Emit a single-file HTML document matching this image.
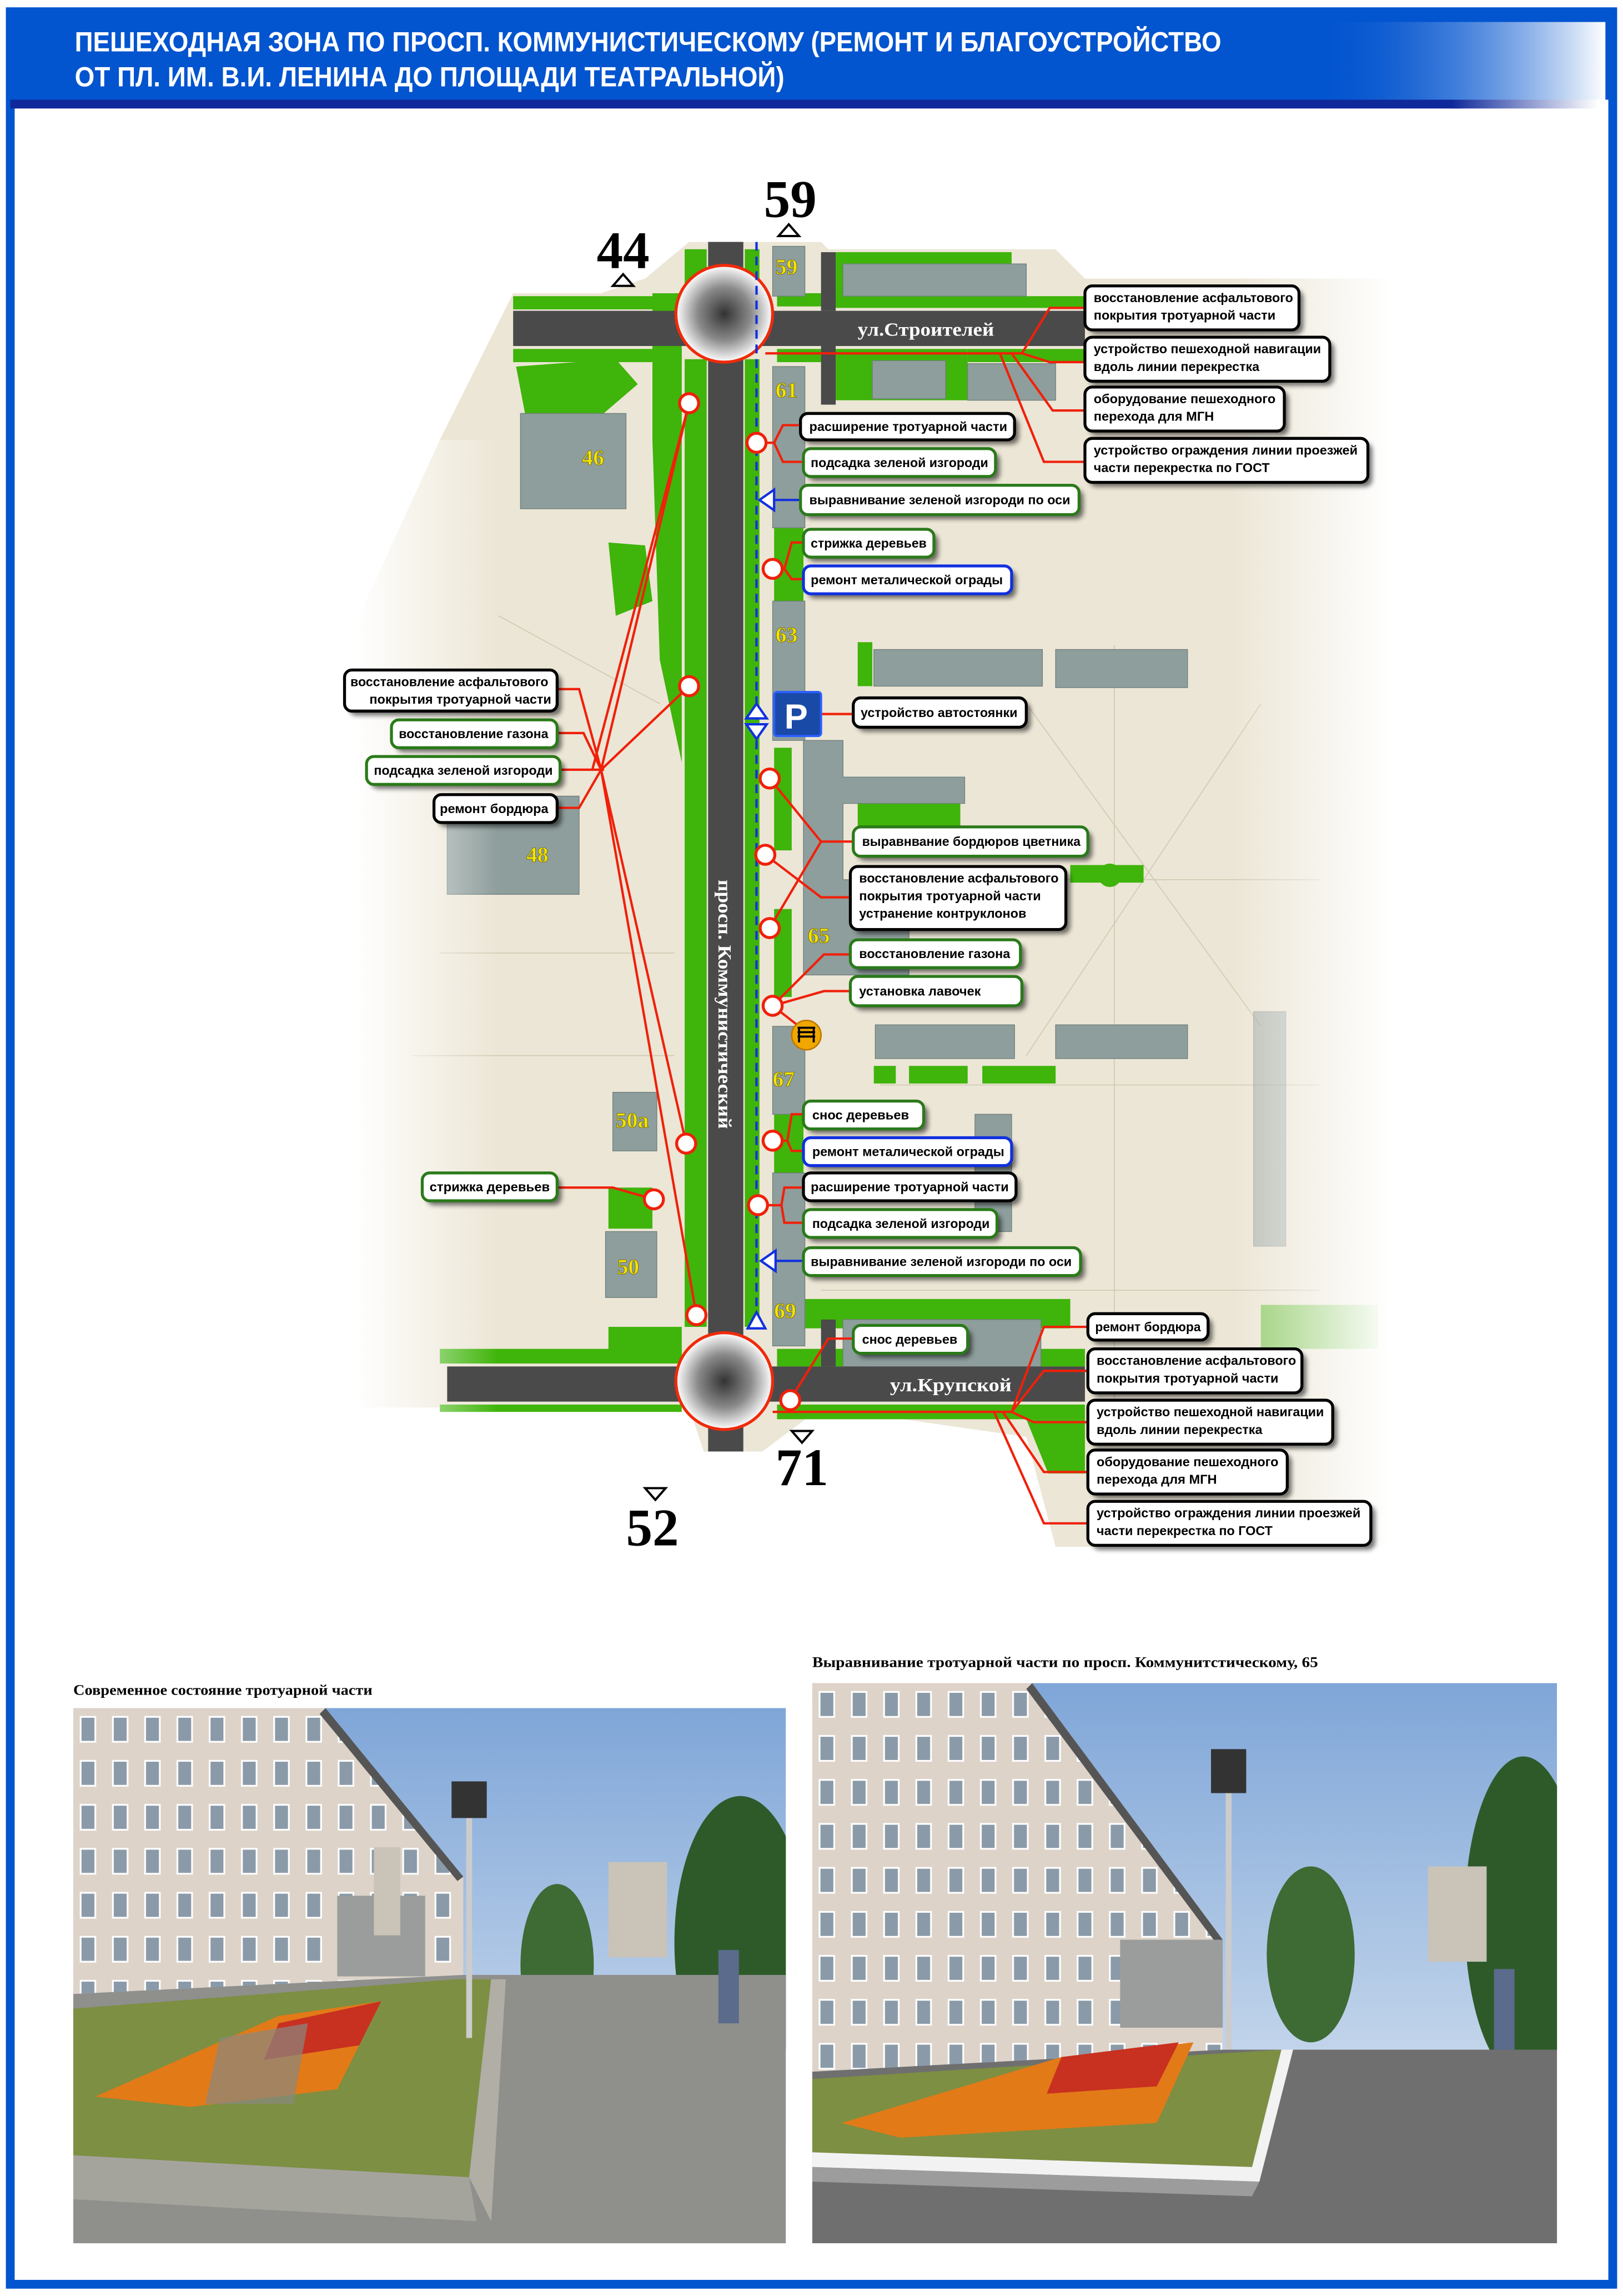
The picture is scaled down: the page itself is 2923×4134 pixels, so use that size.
<!DOCTYPE html>
<html><head><meta charset="utf-8"><style>
html,body{margin:0;padding:0;background:#fff}
svg{display:block}
.lb{font-family:"Liberation Sans",sans-serif;font-weight:bold;font-size:8.6px;fill:#000}
.num{font-family:"Liberation Serif",serif;font-weight:bold;fill:#f5e400;font-size:15px;stroke:#6a6000;stroke-width:.3}
.big{font-family:"Liberation Serif",serif;font-weight:bold;fill:#000;font-size:36px}
.st{font-family:"Liberation Serif",serif;font-weight:bold;fill:#fff;font-size:13px}
.cap{font-family:"Liberation Serif",serif;font-weight:bold;fill:#000;font-size:10px}
</style></head><body>
<svg width="2923" height="4134" viewBox="0 0 1107 1566" preserveAspectRatio="none" xmlns="http://www.w3.org/2000/svg">
<defs>
<linearGradient id="hg" x1="0" x2="1"><stop offset="0" stop-color="#0254cf" stop-opacity="0"/><stop offset="1" stop-color="#fff"/></linearGradient>
<linearGradient id="ng" x1="0" x2="1"><stop offset="0" stop-color="#10299a"/><stop offset="1" stop-color="#fff"/></linearGradient>
<radialGradient id="rb"><stop offset="0" stop-color="#333"/><stop offset=".55" stop-color="#8a8a8a"/><stop offset="1" stop-color="#fff"/></radialGradient>
<linearGradient id="fadeL" x1="0" x2="1"><stop offset="0" stop-color="#fff"/><stop offset="1" stop-color="#fff" stop-opacity="0"/></linearGradient>
<linearGradient id="fadeR" x1="0" x2="1"><stop offset="0" stop-color="#fff" stop-opacity="0"/><stop offset="1" stop-color="#fff"/></linearGradient>
<linearGradient id="sky" x1="0" y1="0" x2="0" y2="1"><stop offset="0" stop-color="#7fa6d8"/><stop offset="1" stop-color="#e4ecf4"/></linearGradient>
<pattern id="win" width="22" height="30" patternUnits="userSpaceOnUse"><rect width="22" height="30" fill="#ddd3c9"/><rect x="5" y="6" width="10" height="17" fill="#8a9aa8" stroke="#fff" stroke-width="1.2"/></pattern>
<filter id="sh" x="-20%" y="-40%" width="140%" height="180%"><feGaussianBlur stdDeviation="1.6"/></filter>
</defs>

<!-- frame -->
<rect x="7" y="8" width="1093" height="1550" fill="none" stroke="#0254cf" stroke-width="6"/>
<rect x="7" y="8" width="1093" height="60" fill="#0254cf"/>
<rect x="893" y="15" width="202" height="53" fill="url(#hg)"/>
<rect x="7" y="68" width="990" height="6" fill="#10299a"/>
<rect x="990" y="68" width="100" height="6" fill="url(#ng)"/>
<text x="51" y="35" font-family="Liberation Sans,sans-serif" font-weight="bold" font-size="19" fill="#fff" textLength="782" lengthAdjust="spacingAndGlyphs">ПЕШЕХОДНАЯ ЗОНА ПО ПРОСП. КОММУНИСТИЧЕСКОМУ (РЕМОНТ И БЛАГОУСТРОЙСТВО</text>
<text x="51" y="59" font-family="Liberation Sans,sans-serif" font-weight="bold" font-size="19" fill="#fff" textLength="484" lengthAdjust="spacingAndGlyphs">ОТ ПЛ. ИМ. В.И. ЛЕНИНА ДО ПЛОЩАДИ ТЕАТРАЛЬНОЙ)</text>

<!-- map base -->
<polygon points="470,165 560,165 565,170 720,170 740,190 945,190 945,1055 720,1055 700,980 560,960 520,990 480,990 470,960 305,960 245,960 245,420 300,300 350,200 410,200 440,190" fill="#ece6d6"/>
<g stroke="#c9bfa6" stroke-width="0.6" fill="none" opacity=".8">
<path d="M700,480 L860,700 M860,480 L700,720 M620,600 L900,600 M760,440 L760,960 M600,740 L900,740 M560,880 L900,880 M300,650 L460,650 M280,720 L460,720 M340,420 L450,480"/>
</g>
<g fill="#3fb40a">
<rect x="467" y="170" width="15" height="25"/><rect x="467" y="245" width="15" height="660"/>
<rect x="508" y="170" width="10" height="25"/><rect x="508" y="245" width="10" height="660"/>
<rect x="350" y="202" width="115" height="9"/><rect x="530" y="200" width="50" height="9"/><rect x="570" y="202" width="170" height="8"/>
<rect x="350" y="238" width="115" height="9"/><rect x="530" y="238" width="40" height="9"/><rect x="570" y="238" width="90" height="35"/><rect x="660" y="238" width="80" height="9"/>
<rect x="570" y="172" width="120" height="30"/>
<polygon points="352,250 420,245 435,262 400,292 360,292"/>
<polygon points="415,370 440,372 445,410 420,420"/>
<polygon points="445,200 465,200 465,520 450,450 445,300"/>
<rect x="528" y="360" width="20" height="50"/><rect x="528" y="510" width="12" height="70"/><rect x="528" y="620" width="12" height="60"/><rect x="528" y="760" width="20" height="40"/>
<rect x="585" y="438" width="10" height="30"/><rect x="585" y="548" width="70" height="25"/>
<rect x="596" y="727" width="15" height="12"/><rect x="620" y="727" width="40" height="12"/><rect x="670" y="727" width="50" height="12"/>
<rect x="730" y="590" width="50" height="12"/><circle cx="757" cy="597" r="8"/>
<rect x="415" y="810" width="30" height="28"/><rect x="415" y="905" width="50" height="20"/><rect x="300" y="920" width="165" height="10"/>
<rect x="530" y="886" width="200" height="20"/><rect x="530" y="920" width="210" height="12"/><rect x="530" y="958" width="210" height="10"/><rect x="300" y="958" width="165" height="5"/>
<rect x="860" y="890" width="80" height="30" fill-opacity=".5"/>
<polygon points="700,968 740,968 740,1005 715,1005"/>
</g>
<g fill="#8e9e9c" stroke="#6f7e7c" stroke-width=".5">
<rect x="527" y="168" width="22" height="34"/>
<rect x="575" y="180" width="125" height="22"/>
<rect x="595" y="246" width="50" height="26"/><rect x="660" y="248" width="60" height="25"/>
<rect x="527" y="250" width="22" height="110"/>
<rect x="527" y="410" width="22" height="95"/>
<rect x="596" y="443" width="115" height="25"/><rect x="720" y="443" width="90" height="26"/>
<polygon points="548,505 575,505 575,530 658,530 658,548 575,548 575,600 620,600 620,665 548,665"/>
<rect x="527" y="700" width="22" height="60"/>
<rect x="597" y="699" width="95" height="23"/><rect x="720" y="699" width="90" height="23"/>
<rect x="527" y="800" width="22" height="118"/>
<rect x="665" y="760" width="25" height="80"/>
<rect x="575" y="900" width="135" height="35"/>
<rect x="355" y="282" width="72" height="65"/>
<rect x="305" y="543" width="90" height="67"/>
<rect x="418" y="745" width="30" height="40"/>
<rect x="413" y="840" width="35" height="45"/>
<rect x="855" y="690" width="22" height="160" opacity=".5"/>
</g>
<rect x="240" y="300" width="100" height="670" fill="url(#fadeL)"/>
<rect x="840" y="190" width="110" height="870" fill="url(#fadeR)"/>
<rect x="483" y="165" width="24" height="825" fill="#4a4a4a"/>
<rect x="350" y="212" width="390" height="24" fill="#4a4a4a"/>
<rect x="560" y="172" width="10" height="40" fill="#4a4a4a"/>
<rect x="560" y="236" width="10" height="40" fill="#4a4a4a"/>
<rect x="305" y="932" width="435" height="24" fill="#4a4a4a"/>
<rect x="560" y="900" width="10" height="32" fill="#4a4a4a"/>
<text class="st" x="585" y="229" textLength="93" lengthAdjust="spacingAndGlyphs">ул.Строителей</text>
<text class="st" x="607" y="949" textLength="83" lengthAdjust="spacingAndGlyphs">ул.Крупской</text>
<text class="st" transform="translate(490,600) rotate(90)" textLength="170" lengthAdjust="spacingAndGlyphs">просп. Коммунистический</text>
<circle cx="494" cy="214" r="33" fill="url(#rb)" stroke="#f02a0a" stroke-width="2"/>
<circle cx="494" cy="942" r="33" fill="url(#rb)" stroke="#f02a0a" stroke-width="2"/>
<line x1="516" y1="165" x2="516" y2="905" stroke="#1030e0" stroke-width="1.6" stroke-dasharray="6,4"/>

<text class="num" x="529" y="187">59</text>
<text class="num" x="529" y="271">61</text>
<text class="num" x="397" y="317">46</text>
<text class="num" x="529" y="438">63</text>
<text class="num" x="359" y="588">48</text>
<text class="num" x="551" y="643">65</text>
<text class="num" x="527" y="741">67</text>
<text class="num" x="420" y="769">50а</text>
<text class="num" x="421" y="869">50</text>
<text class="num" x="528" y="899">69</text>

<text class="big" x="407" y="183">44</text><polygon points="425,187 418,195 432,195" fill="none" stroke="#000" stroke-width="1.5"/>
<text class="big" x="521" y="148">59</text><polygon points="538,153 531,161 545,161" fill="none" stroke="#000" stroke-width="1.5"/>
<text class="big" x="529" y="1013">71</text><polygon points="547,984 540,976 554,976" fill="none" stroke="#000" stroke-width="1.5"/>
<text class="big" x="427" y="1054">52</text><polygon points="447,1023 440,1015 454,1015" fill="none" stroke="#000" stroke-width="1.5"/>

<g stroke="#f0200a" stroke-width="1.6" fill="none">
<path d="M522,241 H697 M697,241 L716,210 H740 M697,241 L716,247 H740 M690,241 L718,280 H740 M682,241 L712,315 H740"/>
<path d="M527,963 H690 M690,963 L712,905 H742 M690,963 L712,935 H742 M690,963 L705,970 H742 M684,963 L712,1004 H742 M678,963 L712,1039 H742"/>
<path d="M540,953 L565,913 H582"/>
<path d="M380,470 H395 L410,525 M380,500 H398 L410,525 M382,525 H412 M380,551 H395 L410,525"/>
<path d="M410,525 L470,468 M410,525 L470,275 M410,525 L468,780 M410,525 L475,897 M404,525 L470,275"/>
<path d="M380,810 H418 L446,818"/>
<path d="M516,302 H528 L534,290 H548 M528,302 L534,315 H548"/>
<path d="M527,388 H535 L540,370 H548 M535,388 L540,395 H548"/>
<path d="M525,531 L560,574 H582 M525,633 L560,574 M522,583 L560,612 H580"/>
<path d="M527,686 L562,651 H580 M527,686 L562,676 H580 M527,686 L545,700"/>
<path d="M527,778 H537 L540,760 H548 M537,778 L540,785 H548"/>
<path d="M517,822 H533 L535,810 H548 M533,822 L535,834 H548"/>
<path d="M560,487 H582"/>
</g>
<g fill="#fff" stroke="#f0200a" stroke-width="2">
<circle cx="470" cy="275" r="6.5"/><circle cx="470" cy="468" r="6.5"/><circle cx="468" cy="780" r="6.5"/><circle cx="475" cy="897" r="6.5"/><circle cx="446" cy="818" r="6.5"/>
<circle cx="516" cy="302" r="6.5"/><circle cx="527" cy="388" r="6.5"/><circle cx="525" cy="531" r="6.5"/><circle cx="522" cy="583" r="6.5"/><circle cx="525" cy="633" r="6.5"/><circle cx="527" cy="686" r="6.5"/><circle cx="527" cy="778" r="6.5"/><circle cx="517" cy="822" r="6.5"/><circle cx="539" cy="955" r="6.5"/>
</g>
<g stroke="#1030e0" stroke-width="1.6" fill="#fff">
<line x1="518" y1="341" x2="546" y2="341"/><polygon points="518,341 528,334 528,348"/>
<line x1="519" y1="860" x2="548" y2="860"/><polygon points="519,860 529,853 529,867"/>
<polygon points="516,480 509,490 523,490"/><polygon points="516,504 509,494 523,494"/>
<polygon points="516,895 510,906 522,906"/>
</g>
<rect x="528" y="472" width="32" height="30" rx="2" fill="#1a4aa8" stroke="#2a60ff" stroke-width="1.5"/>
<text x="535" y="497" font-family="Liberation Sans,sans-serif" font-weight="bold" font-size="24" fill="#fff">P</text>
<circle cx="550" cy="706" r="10" fill="#f0a800" stroke="#c07800" stroke-width="1"/>
<path d="M544,701 h12 M544,704 h12 M544,707 h12 M545,701 v10 M555,701 v10" stroke="#000" stroke-width="1.4"/>

<g>
<g id="L">
<rect x="743" y="198" width="146" height="30" rx="5" fill="#000" opacity=".55" filter="url(#sh)"/>
<rect x="740" y="195" width="146" height="30" rx="5" fill="#fff" stroke="#000" stroke-width="2"/>
<text class="lb" x="746" y="206" textLength="136" lengthAdjust="spacingAndGlyphs">восстановление асфальтового</text>
<text class="lb" x="746" y="218" textLength="124" lengthAdjust="spacingAndGlyphs">покрытия тротуарной части</text>
<rect x="743" y="233" width="167" height="30" rx="5" fill="#000" opacity=".55" filter="url(#sh)"/>
<rect x="740" y="230" width="167" height="30" rx="5" fill="#fff" stroke="#000" stroke-width="2"/>
<text class="lb" x="746" y="241" textLength="155" lengthAdjust="spacingAndGlyphs">устройство пешеходной навигации</text>
<text class="lb" x="746" y="253" textLength="113" lengthAdjust="spacingAndGlyphs">вдоль линии перекрестка</text>
<rect x="743" y="267" width="136" height="30" rx="5" fill="#000" opacity=".55" filter="url(#sh)"/>
<rect x="740" y="264" width="136" height="30" rx="5" fill="#fff" stroke="#000" stroke-width="2"/>
<text class="lb" x="746" y="275" textLength="124" lengthAdjust="spacingAndGlyphs">оборудование пешеходного</text>
<text class="lb" x="746" y="287" textLength="82" lengthAdjust="spacingAndGlyphs">перехода для МГН</text>
<rect x="743" y="302" width="193" height="30" rx="5" fill="#000" opacity=".55" filter="url(#sh)"/>
<rect x="740" y="299" width="193" height="30" rx="5" fill="#fff" stroke="#000" stroke-width="2"/>
<text class="lb" x="746" y="310" textLength="180" lengthAdjust="spacingAndGlyphs">устройство ограждения линии проезжей</text>
<text class="lb" x="746" y="322" textLength="120" lengthAdjust="spacingAndGlyphs">части перекрестка по ГОСТ</text>
</g>
<rect x="745" y="899" width="82" height="18" rx="5" fill="#000" opacity=".55" filter="url(#sh)"/>
<rect x="742" y="896" width="82" height="18" rx="5" fill="#fff" stroke="#000" stroke-width="2"/>
<text class="lb" x="747" y="908" textLength="72" lengthAdjust="spacingAndGlyphs">ремонт бордюра</text>
<g transform="translate(2,725)"><use href="#L"/></g>

<rect x="238" y="460" width="145" height="28" rx="5" fill="#000" opacity=".55" filter="url(#sh)"/>
<rect x="235" y="457" width="145" height="28" rx="5" fill="#fff" stroke="#000" stroke-width="2"/>
<text class="lb" x="239" y="468" textLength="135" lengthAdjust="spacingAndGlyphs">восстановление асфальтового</text>
<text class="lb" x="252" y="480" textLength="124" lengthAdjust="spacingAndGlyphs">покрытия тротуарной части</text>
<rect x="270" y="494" width="113" height="19" rx="5" fill="#000" opacity=".55" filter="url(#sh)"/>
<rect x="267" y="491" width="113" height="19" rx="5" fill="#fff" stroke="#2a7a1a" stroke-width="2"/>
<text class="lb" x="272" y="503.5" textLength="102" lengthAdjust="spacingAndGlyphs">восстановление газона</text>
<rect x="253" y="519" width="132" height="19" rx="5" fill="#000" opacity=".55" filter="url(#sh)"/>
<rect x="250" y="516" width="132" height="19" rx="5" fill="#fff" stroke="#2a7a1a" stroke-width="2"/>
<text class="lb" x="255" y="528.5" textLength="122" lengthAdjust="spacingAndGlyphs">подсадка зеленой изгороди</text>
<rect x="299" y="545" width="84" height="19" rx="5" fill="#000" opacity=".55" filter="url(#sh)"/>
<rect x="296" y="542" width="84" height="19" rx="5" fill="#fff" stroke="#000" stroke-width="2"/>
<text class="lb" x="300" y="554.5" textLength="74" lengthAdjust="spacingAndGlyphs">ремонт бордюра</text>
<rect x="291" y="803" width="92" height="19" rx="5" fill="#000" opacity=".55" filter="url(#sh)"/>
<rect x="288" y="800" width="92" height="19" rx="5" fill="#fff" stroke="#2a7a1a" stroke-width="2"/>
<text class="lb" x="293" y="812.5" textLength="82" lengthAdjust="spacingAndGlyphs">стрижка деревьев</text>

<rect x="549" y="285" width="146" height="18" rx="5" fill="#000" opacity=".55" filter="url(#sh)"/>
<rect x="546" y="282" width="146" height="18" rx="5" fill="#fff" stroke="#000" stroke-width="2"/>
<text class="lb" x="552" y="294" textLength="135" lengthAdjust="spacingAndGlyphs">расширение тротуарной части</text>
<rect x="551" y="309" width="131" height="19" rx="5" fill="#000" opacity=".55" filter="url(#sh)"/>
<rect x="548" y="306" width="131" height="19" rx="5" fill="#fff" stroke="#2a7a1a" stroke-width="2"/>
<text class="lb" x="553" y="318.5" textLength="121" lengthAdjust="spacingAndGlyphs">подсадка зеленой изгороди</text>
<rect x="549" y="334" width="190" height="20" rx="5" fill="#000" opacity=".55" filter="url(#sh)"/>
<rect x="546" y="331" width="190" height="20" rx="5" fill="#fff" stroke="#2a7a1a" stroke-width="2"/>
<text class="lb" x="552" y="344" textLength="178" lengthAdjust="spacingAndGlyphs">выравнивание зеленой изгороди по оси</text>
<rect x="551" y="364" width="89" height="19" rx="5" fill="#000" opacity=".55" filter="url(#sh)"/>
<rect x="548" y="361" width="89" height="19" rx="5" fill="#fff" stroke="#2a7a1a" stroke-width="2"/>
<text class="lb" x="553" y="373.5" textLength="79" lengthAdjust="spacingAndGlyphs">стрижка деревьев</text>
<rect x="551" y="389" width="142" height="19" rx="5" fill="#000" opacity=".55" filter="url(#sh)"/>
<rect x="548" y="386" width="142" height="19" rx="5" fill="#fff" stroke="#1030e0" stroke-width="2"/>
<text class="lb" x="553" y="398.5" textLength="131" lengthAdjust="spacingAndGlyphs">ремонт металической ограды</text>
<rect x="585" y="479" width="118" height="20" rx="5" fill="#000" opacity=".55" filter="url(#sh)"/>
<rect x="582" y="476" width="118" height="20" rx="5" fill="#fff" stroke="#000" stroke-width="2"/>
<text class="lb" x="587" y="489" textLength="107" lengthAdjust="spacingAndGlyphs">устройство автостоянки</text>
<rect x="585" y="567" width="160" height="20" rx="5" fill="#000" opacity=".55" filter="url(#sh)"/>
<rect x="582" y="564" width="160" height="20" rx="5" fill="#fff" stroke="#2a7a1a" stroke-width="2"/>
<text class="lb" x="588" y="577" textLength="149" lengthAdjust="spacingAndGlyphs">выравнвание бордюров цветника</text>
<rect x="583" y="594" width="147" height="43" rx="5" fill="#000" opacity=".55" filter="url(#sh)"/>
<rect x="580" y="591" width="147" height="43" rx="5" fill="#fff" stroke="#000" stroke-width="2"/>
<text class="lb" x="586" y="602" textLength="136" lengthAdjust="spacingAndGlyphs">восстановление асфальтового</text>
<text class="lb" x="586" y="614" textLength="124" lengthAdjust="spacingAndGlyphs">покрытия тротуарной части</text>
<text class="lb" x="586" y="626" textLength="114" lengthAdjust="spacingAndGlyphs">устранение контруклонов</text>
<rect x="583" y="644" width="116" height="19" rx="5" fill="#000" opacity=".55" filter="url(#sh)"/>
<rect x="580" y="641" width="116" height="19" rx="5" fill="#fff" stroke="#2a7a1a" stroke-width="2"/>
<text class="lb" x="586" y="653.5" textLength="103" lengthAdjust="spacingAndGlyphs">восстановление газона</text>
<rect x="583" y="669" width="117" height="20" rx="5" fill="#000" opacity=".55" filter="url(#sh)"/>
<rect x="580" y="666" width="117" height="20" rx="5" fill="#fff" stroke="#2a7a1a" stroke-width="2"/>
<text class="lb" x="586" y="679" textLength="83" lengthAdjust="spacingAndGlyphs">установка лавочек</text>
<rect x="551" y="754" width="82" height="19" rx="5" fill="#000" opacity=".55" filter="url(#sh)"/>
<rect x="548" y="751" width="82" height="19" rx="5" fill="#fff" stroke="#2a7a1a" stroke-width="2"/>
<text class="lb" x="554" y="763.5" textLength="66" lengthAdjust="spacingAndGlyphs">снос деревьев</text>
<rect x="551" y="779" width="142" height="19" rx="5" fill="#000" opacity=".55" filter="url(#sh)"/>
<rect x="548" y="776" width="142" height="19" rx="5" fill="#fff" stroke="#1030e0" stroke-width="2"/>
<text class="lb" x="554" y="788.5" textLength="131" lengthAdjust="spacingAndGlyphs">ремонт металической ограды</text>
<rect x="551" y="803" width="145" height="19" rx="5" fill="#000" opacity=".55" filter="url(#sh)"/>
<rect x="548" y="800" width="145" height="19" rx="5" fill="#fff" stroke="#000" stroke-width="2"/>
<text class="lb" x="553" y="812.5" textLength="135" lengthAdjust="spacingAndGlyphs">расширение тротуарной части</text>
<rect x="551" y="828" width="132" height="19" rx="5" fill="#000" opacity=".55" filter="url(#sh)"/>
<rect x="548" y="825" width="132" height="19" rx="5" fill="#fff" stroke="#2a7a1a" stroke-width="2"/>
<text class="lb" x="554" y="837.5" textLength="121" lengthAdjust="spacingAndGlyphs">подсадка зеленой изгороди</text>
<rect x="551" y="854" width="189" height="19" rx="5" fill="#000" opacity=".55" filter="url(#sh)"/>
<rect x="548" y="851" width="189" height="19" rx="5" fill="#fff" stroke="#2a7a1a" stroke-width="2"/>
<text class="lb" x="553" y="863.5" textLength="178" lengthAdjust="spacingAndGlyphs">выравнивание зеленой изгороди по оси</text>
<rect x="585" y="907" width="78" height="19" rx="5" fill="#000" opacity=".55" filter="url(#sh)"/>
<rect x="582" y="904" width="78" height="19" rx="5" fill="#fff" stroke="#2a7a1a" stroke-width="2"/>
<text class="lb" x="588" y="916.5" textLength="65" lengthAdjust="spacingAndGlyphs">снос деревьев</text>
</g>

<text class="cap" x="50" y="1156" textLength="204" lengthAdjust="spacingAndGlyphs">Современное состояние тротуарной части</text>
<text class="cap" x="554" y="1137" textLength="345" lengthAdjust="spacingAndGlyphs">Выравнивание тротуарной части по просп. Коммунитстическому, 65</text>

<!-- photo 1 -->
<svg x="50" y="1165" width="486" height="365" viewBox="0 0 486 365">
<rect width="486" height="365" fill="url(#sky)"/>
<polygon points="0,0 172,0 266,115 266,182 0,195" fill="url(#win)"/>
<polygon points="172,0 266,115 262,118 168,4" fill="#555"/>
<rect x="180" y="128" width="60" height="55" fill="#9a9d9c"/>
<rect x="205" y="95" width="18" height="60" fill="#c9c3b8"/>
<ellipse cx="455" cy="160" rx="45" ry="100" fill="#2e5a2a"/>
<ellipse cx="330" cy="175" rx="25" ry="55" fill="#3e6a34"/>
<rect x="365" y="105" width="40" height="65" fill="#c9c3b8"/>
<polygon points="0,195 266,182 486,182 486,365 0,365" fill="#8f8f8c"/>
<polygon points="0,205 260,185 285,185 270,320 0,305" fill="#7d8f42"/>
<polygon points="15,265 140,210 210,200 180,260 80,272" fill="#e27a18"/>
<polygon points="140,215 210,200 195,230 130,240" fill="#c83020"/>
<polygon points="100,225 160,215 150,270 90,270" fill="#8a8880" opacity=".7"/>
<polygon points="0,305 270,320 275,350 0,335" fill="#a5a49c"/>
<polygon points="270,320 285,185 295,185 285,350" fill="#b0aea5"/>
<rect x="268" y="60" width="4" height="165" fill="#ccc"/>
<rect x="258" y="50" width="24" height="25" fill="#333"/>
<rect x="440" y="165" width="14" height="50" fill="#5a6b8b"/>
</svg>
<!-- photo 2 -->
<svg x="554" y="1148" width="508" height="382" viewBox="0 0 508 382">
<rect width="508" height="382" fill="url(#sky)"/>
<polygon points="0,0 150,0 280,175 280,250 0,265" fill="url(#win)"/>
<polygon points="150,0 280,175 276,178 146,4" fill="#555"/>
<rect x="210" y="175" width="70" height="60" fill="#9a9d9c"/>
<ellipse cx="485" cy="160" rx="40" ry="110" fill="#2e5a2a"/>
<ellipse cx="340" cy="185" rx="30" ry="60" fill="#3e6a34"/>
<rect x="420" y="125" width="40" height="65" fill="#c9c3b8"/>
<polygon points="0,265 280,250 508,250 508,382 0,382" fill="#6f6f6f"/>
<polygon points="0,270 320,250 300,330 0,320" fill="#7d8f42"/>
<polygon points="20,300 170,255 260,245 235,300 60,310" fill="#e27a18"/>
<polygon points="170,255 250,245 235,275 160,280" fill="#c83020"/>
<polygon points="0,320 300,330 320,250 328,250 305,340 0,330" fill="#f2f2f2"/>
<polygon points="0,330 305,340 300,350 0,340" fill="#9c9c9c"/>
<rect x="282" y="60" width="4" height="190" fill="#ccc"/>
<rect x="272" y="45" width="24" height="30" fill="#333"/>
<rect x="465" y="195" width="14" height="55" fill="#5a6b8b"/>
</svg>
</svg>
</body></html>
